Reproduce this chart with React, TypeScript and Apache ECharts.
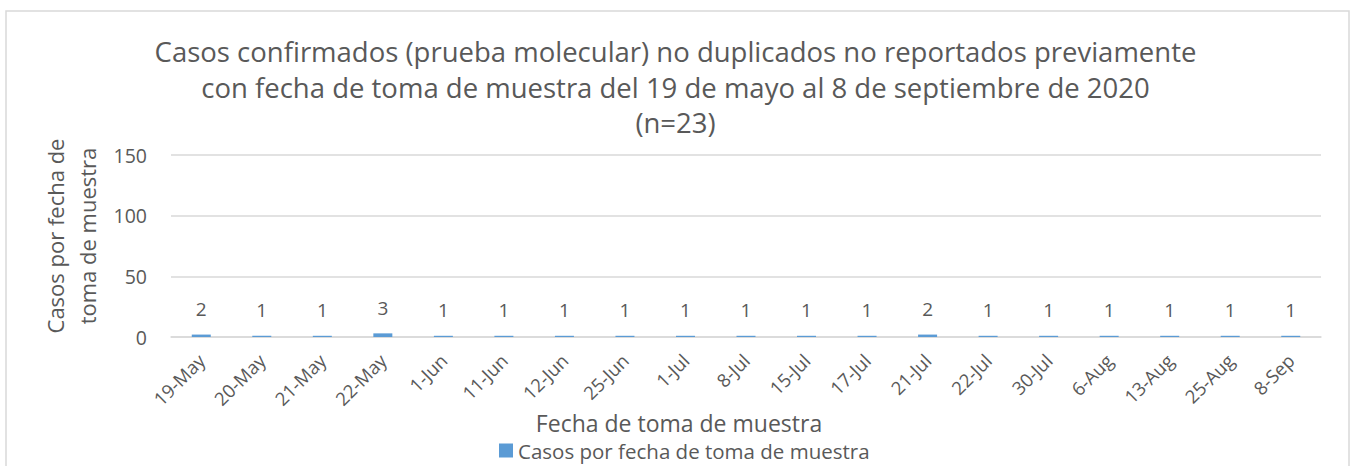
import React, { useEffect, useRef } from "react";
import * as echarts from "echarts";

const categories = [
  "19-May", "20-May", "21-May", "22-May", "1-Jun", "11-Jun", "12-Jun", "25-Jun", "1-Jul", "8-Jul",
  "15-Jul", "17-Jul", "21-Jul", "22-Jul", "30-Jul", "6-Aug", "13-Aug", "25-Aug", "8-Sep",
];
const casos = [2, 1, 1, 3, 1, 1, 1, 1, 1, 1, 1, 1, 2, 1, 1, 1, 1, 1, 1];
const seriesName = "Casos por fecha de toma de muestra";
const titleText =
  "Casos confirmados (prueba molecular) no duplicados no reportados previamente\ncon fecha de toma de muestra del 19 de mayo al 8 de septiembre de 2020\n(n=23)";
const yAxisName = "Casos por fecha de\ntoma de muestra";
const xAxisName = "Fecha de toma de muestra";

const FONT = "'Open Sans', sans-serif";
const TEXT = "#595959";

export default function App() {
  const ref = useRef<HTMLDivElement>(null);
  useEffect(() => {
    if (!ref.current) return;
    const chart = echarts.init(ref.current, undefined, { renderer: "svg" });
    chart.setOption({
      animation: false,
      backgroundColor: "#ffffff",
      textStyle: { fontFamily: FONT, color: TEXT },
      graphic: [
        {
          type: "rect",
          shape: { x: 6, y: 11, width: 1343, height: 500 },
          style: { fill: "none", stroke: "#d9d9d9", lineWidth: 1.5 },
          silent: true,
        },
      ],
      title: {
        text: titleText,
        left: 675.5,
        top: 34,
        padding: 0,
        textAlign: "center",
        textStyle: {
          fontFamily: FONT,
          fontSize: 27.5,
          fontWeight: "normal",
          color: TEXT,
          lineHeight: 35.5,
          align: "center",
        },
      },
      legend: {
        left: 499,
        top: 440,
        padding: 0,
        itemWidth: 14,
        itemHeight: 14,
        itemGap: 10,
        icon: "rect",
        textStyle: { fontFamily: FONT, fontSize: 20.5, lineHeight: 20, color: TEXT },
        data: [seriesName],
      },
      grid: { left: 171, right: 30, top: 155, bottom: 129, containLabel: false },
      xAxis: {
        type: "category",
        data: categories,
        name: xAxisName,
        nameLocation: "middle",
        nameGap: 68,
        nameTextStyle: {
          fontFamily: FONT,
          fontSize: 23,
          color: TEXT,
          padding: [0, 134, 0, 0],
        },
        axisLine: { lineStyle: { color: "#d9d9d9", width: 1.5 } },
        axisTick: { show: false },
        axisLabel: {
          rotate: 45,
          interval: 0,
          margin: 20,
          fontFamily: FONT,
          fontSize: 18.5,
          color: TEXT,
        },
      },
      yAxis: {
        type: "value",
        min: 0,
        max: 150,
        interval: 50,
        name: yAxisName,
        nameLocation: "middle",
        nameRotate: 90,
        nameGap: 67,
        nameTextStyle: {
          fontFamily: FONT,
          fontSize: 22,
          color: TEXT,
          lineHeight: 32,
          padding: [0, 0, 0, 20],
        },
        axisLine: { show: false },
        axisTick: { show: false },
        axisLabel: { margin: 24, fontFamily: FONT, fontSize: 19.5, color: TEXT },
        splitLine: { lineStyle: { color: "#d9d9d9", width: 1.5 } },
      },
      series: [
        {
          name: seriesName,
          type: "bar",
          data: casos,
          barWidth: 19,
          itemStyle: { color: "#5B9BD5" },
          label: {
            show: true,
            position: "top",
            distance: 16,
            fontFamily: FONT,
            fontSize: 19,
            color: TEXT,
          },
        },
      ],
    });
    return () => chart.dispose();
  }, []);
  return (
    <div
      ref={ref}
      style={{ position: "absolute", left: 0, top: 0, width: 1351, height: 466 }}
    />
  );
}
